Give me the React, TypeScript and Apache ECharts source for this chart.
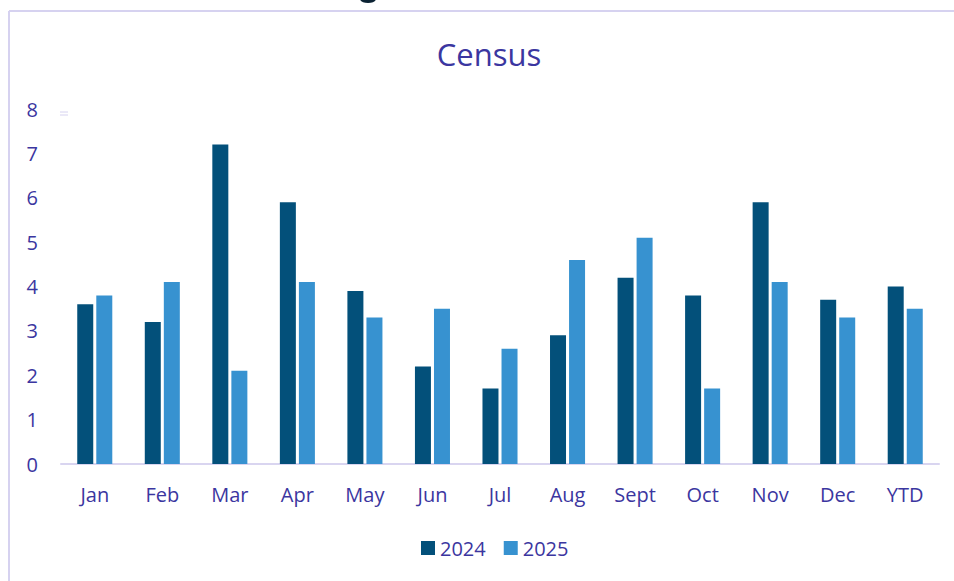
import React, { useEffect, useRef } from "react";
import * as echarts from "echarts";

const categories = ["Jan", "Feb", "Mar", "Apr", "May", "Jun", "Jul", "Aug", "Sept", "Oct", "Nov", "Dec", "YTD"];
const series2024 = [3.6, 3.2, 7.2, 5.9, 3.9, 2.2, 1.7, 2.9, 4.2, 3.8, 5.9, 3.7, 4.0];
const series2025 = [3.8, 4.1, 2.1, 4.1, 3.3, 3.5, 2.6, 4.6, 5.1, 1.7, 4.1, 3.3, 3.5];
const seriesNames = ["2024", "2025"];

const TEXT = "#3B36A0";
const FONT = "'Open Sans', 'Noto Sans', sans-serif";

export default function App() {
  const ref = useRef<HTMLDivElement>(null);
  useEffect(() => {
    if (!ref.current) return;
    const chart = echarts.init(ref.current, null, { renderer: "svg" });
    chart.setOption({
      animation: false,
      backgroundColor: "#ffffff",
      title: {
        text: "Census",
        left: 484,
        textAlign: "center",
        top: 33,
        textStyle: { color: TEXT, fontFamily: FONT, fontSize: 31, fontWeight: "normal" },
      },
      legend: {
        data: seriesNames,
        top: 533,
        left: 416,
        itemWidth: 14,
        itemHeight: 14,
        itemGap: 18,
        icon: "rect",
        textStyle: { color: TEXT, fontFamily: FONT, fontSize: 20 },
      },
      grid: { left: 61, right: 15, top: 109, bottom: 117 },
      xAxis: {
        type: "category",
        data: categories,
        axisLine: { lineStyle: { color: "#D9D5F0", width: 2 } },
        axisTick: { show: false },
        axisLabel: { color: TEXT, fontFamily: FONT, fontSize: 20, margin: 20 },
      },
      yAxis: {
        type: "value",
        min: 0,
        max: 8,
        interval: 1,
        splitLine: { show: false },
        axisLine: { show: false },
        axisTick: { show: false },
        axisLabel: { color: TEXT, fontFamily: FONT, fontSize: 20, margin: 23 },
      },
      series: [
        {
          name: seriesNames[0],
          type: "bar",
          data: series2024,
          barWidth: 16,
          barGap: "19%",
          itemStyle: { color: "#03507A" },
        },
        {
          name: seriesNames[1],
          type: "bar",
          data: series2025,
          barWidth: 16,
          itemStyle: { color: "#3792D0" },
        },
      ],
      graphic: [
        { type: "line", shape: { x1: 9, y1: 11, x2: 954, y2: 11 }, style: { stroke: "#D6D2F0", lineWidth: 2 } },
        { type: "line", shape: { x1: 9, y1: 11, x2: 9, y2: 581 }, style: { stroke: "#D6D2F0", lineWidth: 2 } },
        { type: "ellipse", shape: { cx: 368, cy: -1, rx: 8, ry: 4 }, style: { fill: "#0B2233" } },
        { type: "line", shape: { x1: 60, y1: 112, x2: 68, y2: 112 }, style: { stroke: "#D6D2F0", lineWidth: 1 } },
        { type: "line", shape: { x1: 60, y1: 115, x2: 68, y2: 115 }, style: { stroke: "#D6D2F0", lineWidth: 1 } },
      ],
    });
    return () => chart.dispose();
  }, []);
  return <div ref={ref} style={{ position: "absolute", left: 0, top: 0, width: 954, height: 581 }} />;
}
